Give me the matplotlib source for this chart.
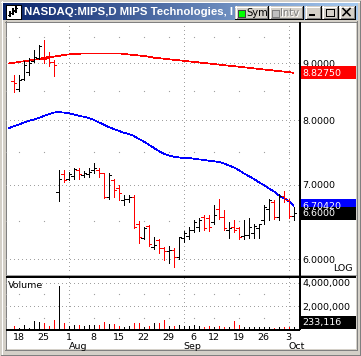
import numpy as np
import matplotlib
matplotlib.use("Agg")
import matplotlib.pyplot as plt
from matplotlib.patches import Rectangle
from matplotlib.ticker import NullLocator, NullFormatter

plt.rcParams['font.family'] = ['DejaVu Sans']

# daily bars, Jul 15 .. Oct 4 2005
opens = [8.68, 8.54, 8.72, 8.85, 9.05, 9.10, 9.12, 9.14, 9.02,
         6.90, 7.16, 7.09, 7.13, 7.22, 7.14, 7.16, 7.22, 7.22, 7.17, 6.83,
         7.07, 6.96, 6.78, 6.80, 6.83, 6.45, 6.27, 6.43, 6.16, 6.24,
         6.14, 6.10, 6.12, 6.03, 6.27, 6.29, 6.37, 6.42, 6.55, 6.53,
         6.48, 6.66, 6.55, 6.37, 6.41, 6.40, 6.29, 6.31, 6.33, 6.40,
         6.51, 6.66, 6.76, 6.55, 6.84, 6.78, 6.56]
highs = [8.79, 8.78, 9.04, 9.10, 9.25, 9.35, 9.44, 9.22, 9.07,
         7.22, 7.22, 7.19, 7.25, 7.25, 7.20, 7.25, 7.32, 7.25, 7.18, 7.18,
         7.08, 7.00, 6.85, 6.85, 6.85, 6.50, 6.41, 6.44, 6.28, 6.26,
         6.15, 6.17, 6.14, 6.28, 6.36, 6.42, 6.51, 6.53, 6.58, 6.57,
         6.71, 6.80, 6.64, 6.48, 6.51, 6.42, 6.51, 6.53, 6.45, 6.46,
         6.71, 6.80, 6.78, 6.87, 6.91, 6.80, 6.68]
lows = [8.49, 8.51, 8.70, 8.78, 9.02, 9.08, 9.00, 8.95, 8.77,
        6.77, 7.04, 7.07, 7.08, 7.09, 7.12, 7.11, 7.18, 7.11, 6.81, 6.80,
        6.82, 6.78, 6.71, 6.75, 6.40, 6.21, 6.26, 6.17, 6.13, 6.08,
        5.99, 5.96, 5.91, 6.00, 6.22, 6.26, 6.35, 6.36, 6.38, 6.36,
        6.45, 6.52, 6.37, 6.27, 6.35, 6.26, 6.26, 6.27, 6.27, 6.27,
        6.46, 6.51, 6.52, 6.51, 6.76, 6.54, 6.51]
closes = [8.65, 8.70, 8.97, 9.00, 9.12, 9.33, 9.09, 9.03, 8.97,
          7.09, 7.07, 7.16, 7.23, 7.16, 7.18, 7.19, 7.25, 7.17, 6.83, 7.14,
          6.92, 6.88, 6.80, 6.83, 6.42, 6.28, 6.40, 6.19, 6.18, 6.14,
          6.10, 6.12, 6.03, 6.28, 6.33, 6.37, 6.48, 6.51, 6.40, 6.42,
          6.58, 6.55, 6.40, 6.40, 6.37, 6.28, 6.31, 6.42, 6.43, 6.45,
          6.69, 6.78, 6.55, 6.84, 6.81, 6.56, 6.60]
# volume in millions of shares
volume = [0.29, 0.17, 0.37, 0.17, 0.72, 0.66, 0.52, 0.29, 0.80,
          3.75, 0.57, 0.29, 0.37, 0.37, 0.29, 0.37, 0.37, 0.37, 0.60, 0.43,
          0.46, 0.29, 0.23, 0.29, 0.57, 0.57, 0.23, 0.29, 0.52, 0.57,
          0.80, 0.29, 0.29, 0.37, 0.29, 0.29, 0.37, 0.29, 0.23, 0.29,
          0.23, 0.29, 0.23, 0.23, 0.75, 0.37, 0.23, 0.23, 0.23, 0.23,
          0.23, 0.23, 0.17, 0.23, 0.23, 0.23, 0.233116]
# moving averages, first value is the day before the first bar
ma_slow = [9.00, 9.01, 9.03, 9.04, 9.05, 9.07, 9.08, 9.09, 9.11, 9.13,
           9.14, 9.16, 9.17, 9.18, 9.18, 9.19, 9.19, 9.19, 9.19, 9.19,
           9.19, 9.19, 9.19, 9.18, 9.17, 9.16, 9.15, 9.14, 9.13, 9.11,
           9.10, 9.09, 9.08, 9.07, 9.06, 9.05, 9.04, 9.03, 9.02, 9.01,
           9.00, 8.99, 8.98, 8.97, 8.96, 8.95, 8.94, 8.93, 8.92, 8.91,
           8.90, 8.89, 8.88, 8.87, 8.86, 8.85, 8.84, 8.8275]
ma_fast = [7.87, 7.90, 7.93, 7.96, 7.99, 8.01, 8.04, 8.07, 8.10, 8.13,
           8.14, 8.13, 8.12, 8.10, 8.08, 8.06, 8.04, 8.01, 7.97, 7.93,
           7.89, 7.86, 7.83, 7.80, 7.78, 7.75, 7.70, 7.66, 7.61, 7.56,
           7.51, 7.47, 7.44, 7.42, 7.41, 7.40, 7.40, 7.39, 7.38, 7.37,
           7.36, 7.35, 7.34, 7.32, 7.29, 7.26, 7.22, 7.17, 7.13, 7.09,
           7.04, 7.00, 6.95, 6.91, 6.85, 6.81, 6.77, 6.7042]

week_idx = [1, 6, 11, 16, 21, 26, 31, 36, 40, 45, 50, 55]
week_lbl = ['18', '25', '1', '8', '15', '22', '29', '6', '12', '19', '26', '3']
month_idx = [11, 34, 55]
month_lbl = ['Aug', 'Sep', 'Oct']
price_ticks = [6.0, 7.0, 8.0, 9.0]
price_half = [6.5, 7.5, 8.5, 9.5]
vol_ticks = [2, 4]
vol_half = [1, 3]
last_vol = 233116
title = 'NASDAQ:MIPS,D MIPS Technologies, I'  # cut off by the buttons

W, H = 361, 356
PX = 0.72  # one pixel in points
RED, BLUE, GRID, WIN = '#ff0000', '#0000ff', '#a0a0a0', '#d4d0c8'

fig = plt.figure(figsize=(W / 100, H / 100), dpi=100)
fig.patch.set_facecolor(WIN)


def frac(x0, y0, x1, y1):
    return [x0 / W, 1 - y1 / H, (x1 - x0) / W, (y1 - y0) / H]


bg = fig.add_axes([0, 0, 1, 1], zorder=0)
bg.axis('off')

# title bar
grad = np.linspace(0, 1, 256)[None, :, None]
c0 = np.array([10, 36, 106]) / 255
c1 = np.array([166, 202, 240]) / 255
bg.imshow(c0 + (c1 - c0) * grad, extent=(3, 358, 20, 3), aspect='auto',
          interpolation='bilinear')
bg.set_xlim(0, W)
bg.set_ylim(H, 0)


def hl(a, x0, x1, y, c, lw=1):
    a.plot([x0, x1], [y, y], color=c, lw=lw * PX, antialiased=False,
           solid_capstyle='butt')


def vl(a, x, y0, y1, c, lw=1):
    a.plot([x, x], [y0, y1], color=c, lw=lw * PX, antialiased=False,
           solid_capstyle='butt')


# window frame
hl(bg, 0, W, 0.5, WIN); vl(bg, 0.5, 0, H, WIN)
hl(bg, 1, W - 1, 1.5, 'white'); vl(bg, 1.5, 1, H - 1, 'white')
hl(bg, 0, W, H - 0.5, '#404040'); vl(bg, W - 0.5, 0, H, '#404040')
hl(bg, 1, W - 1, H - 1.5, '#808080'); vl(bg, W - 1.5, 1, H - 1, '#808080')

# client area
bg.add_patch(Rectangle((6, 22), 350, 327, fc='white', ec='none'))
hl(bg, 5, 357, 21.5, '#808080'); vl(bg, 5.5, 21, 350, '#808080')
hl(bg, 5, 357, 349.5, '#808080'); vl(bg, 356.5, 21, 350, '#808080')

# icon
bg.add_patch(Rectangle((5.5, 4.5), 15, 14, fc='white', ec='black', lw=PX,
                       antialiased=False))
for x, y0, y1 in [(9.5, 11, 17), (12.5, 8, 15), (15.5, 6, 13)]:
    vl(bg, x, y0, y1, 'black', 1.5)
    hl(bg, x - 1.5, x, y1 - 2, 'black')
    hl(bg, x, x + 1.5, y0 + 2, 'black')

bg.text(24, 12, title, color='white', fontsize=8.2, fontweight='bold',
        family='Liberation Sans', va='center', ha='left')


def button(x0, y0, x1, y1):
    bg.add_patch(Rectangle((x0, y0), x1 - x0, y1 - y0, fc=WIN, ec='none',
                           zorder=3))
    for args in [(x0, x1 - 1, y0 + 0.5, 'white'), (x0, x1, y1 - 0.5, 'black'),
                 (x0 + 1, x1 - 1, y1 - 1.5, '#808080')]:
        bg.plot([args[0], args[1]], [args[2]] * 2, color=args[3], lw=PX,
                antialiased=False, zorder=4)
    for args in [(x0 + 0.5, y0, y1 - 1, 'white'), (x1 - 0.5, y0, y1, 'black'),
                 (x1 - 1.5, y0 + 1, y1 - 1, '#808080')]:
        bg.plot([args[0]] * 2, [args[1], args[2]], color=args[3], lw=PX,
                antialiased=False, zorder=4)


button(235, 6, 268, 19)
button(269, 6, 303, 19)
button(305, 6, 321, 19)
button(322, 6, 338, 19)
button(339, 6, 355, 19)
bg.add_patch(Rectangle((237.5, 9.5), 7, 7, fc='#00ff00', ec='#404040',
                       lw=PX, zorder=5, antialiased=False))
bg.text(246, 12.8, 'Sym', fontsize=7.2, va='center', ha='left', zorder=5)
bg.add_patch(Rectangle((271.5, 9.5), 7, 7, fc='#c0c0c0', ec='#808080',
                       lw=PX, zorder=5, antialiased=False))
bg.text(281, 13.8, 'Intv', fontsize=7.2, va='center', ha='left', zorder=5,
        color='white')
bg.text(280, 12.8, 'Intv', fontsize=7.2, va='center', ha='left', zorder=5,
        color='#808080')
bg.add_patch(Rectangle((309, 14), 6, 2, fc='black', ec='none', zorder=5))
bg.add_patch(Rectangle((325.5, 8.5), 8, 7, fc='none', ec='black', lw=PX,
                       zorder=5, antialiased=False))
hl(bg, 325, 334, 9.5, 'black')
bg.plot([343, 350], [8.5, 15.5], color='black', lw=1.6 * PX, zorder=5)
bg.plot([343, 350], [15.5, 8.5], color='black', lw=1.6 * PX, zorder=5)

# price panel
n = len(closes)
idx = np.arange(n)
cols = [RED if c < o else 'black' for o, c in zip(opens, closes)]

ax = fig.add_axes(frac(6, 22, 300, 274), zorder=2)
ax.patch.set_visible(False)
ax.set_yscale('log')
ax.set_xlim(-1.5, 57.3)
ax.set_ylim(5.82, 9.807)
for s in ax.spines.values():
    s.set_visible(False)
ax.set_xticks([])
ax.yaxis.tick_right()
ax.set_yticks(price_ticks, labels=[f'{v:.4f}' for v in price_ticks])
ax.yaxis.set_minor_locator(NullLocator())
ax.yaxis.set_minor_formatter(NullFormatter())
ax.tick_params(axis='y', length=0, pad=1.5, labelsize=6.8)

dot_x = [-1.4] + week_idx
for lev in price_ticks:
    ax.axhline(lev, color=GRID, lw=PX, ls=(0, (1, 3)), antialiased=False)
for lev in price_half:
    ax.plot(dot_x, [lev] * len(dot_x), 's', ms=0.8, mew=0, color=GRID)
for m in month_idx:
    ax.axvline(m, color=GRID, lw=PX, ls=(0, (1, 3)), antialiased=False)

ma_x = np.arange(-1, n)
ax.plot(ma_x, ma_slow, color=RED, lw=0.5, antialiased=False)
ax.plot(ma_x, ma_fast, color=BLUE, lw=0.5, antialiased=False)
ax.vlines(idx, lows, highs, colors=cols, lw=PX, antialiased=False)
ax.hlines(opens, idx - 0.45, idx, colors=cols, lw=PX, antialiased=False)
ax.hlines(closes, idx, idx + 0.45, colors=cols, lw=PX, antialiased=False)

# volume panel
axv = fig.add_axes(frac(6, 277, 300, 329.5), zorder=2)
axv.patch.set_visible(False)
axv.set_xlim(-1.5, 57.3)
axv.set_ylim(0, 52.5 / 11.7)
for s in axv.spines.values():
    s.set_visible(False)
axv.yaxis.tick_right()
axv.set_yticks(vol_ticks, labels=[f'{v * 1000000:,.0f}' for v in vol_ticks])
axv.tick_params(axis='y', length=0, pad=1.5, labelsize=6.8)
axv.xaxis.remove_overlapping_locs = False
axv.set_xticks(week_idx, labels=week_lbl)
axv.set_xticks(month_idx, labels=month_lbl, minor=True)
axv.tick_params(axis='x', which='major', length=0, pad=2.6, labelsize=6.8)
axv.tick_params(axis='x', which='minor', length=0, pad=9.2, labelsize=6.8)
for lb in axv.get_xticklabels(minor=True):
    lb.set_horizontalalignment('left')
for lev in vol_ticks:
    axv.axhline(lev, color=GRID, lw=PX, ls=(0, (1, 3)), antialiased=False)
for lev in vol_half:
    axv.plot(dot_x, [lev] * len(dot_x), 's', ms=0.8, mew=0, color=GRID)
for m in month_idx:
    axv.axvline(m, color=GRID, lw=PX, ls=(0, (1, 3)), antialiased=False)
axv.vlines(idx, 0, volume, colors=cols, lw=PX, antialiased=False)

# overlay: axis lines and value boxes
top = fig.add_axes([0, 0, 1, 1], zorder=5)
top.axis('off')
top.set_xlim(0, W)
top.set_ylim(H, 0)
hl(top, 6, 356, 274.5, '#a0a0a0')
hl(top, 6, 356, 276.5, 'black', 1.5)
vl(top, 300.2, 22, 330, 'black', 1.5)
hl(top, 6, 300, 329.8, 'black', 1.5)


def ypix(a, v):
    return H - a.transData.transform((0, v))[1]


for val, txt, fc in [(ma_slow[-1], f'{ma_slow[-1]:.5f}', RED),
                     (ma_fast[-1], f'{ma_fast[-1]:.5f}', BLUE),
                     (closes[-1], f'{closes[-1]:.4f}', 'black')]:
    yc = ypix(ax, val)
    top.add_patch(Rectangle((301, yc - 6.5), 55, 13, fc=fc, ec='none'))
    top.text(302, yc + 0.5, txt, color='white', fontsize=6.8, va='center',
             ha='left')

top.add_patch(Rectangle((301, 316), 55, 13.2, fc='black', ec='none'))
top.text(302, 323, f'{last_vol:,}', color='white', fontsize=6.8, va='center',
         ha='left')
top.text(8, 286, 'Volume', fontsize=6.8, va='center', ha='left')
top.text(353, 268.5, 'LOG', fontsize=6.8, va='center', ha='right')

fig.savefig('out.png', dpi=100, facecolor=fig.get_facecolor())
